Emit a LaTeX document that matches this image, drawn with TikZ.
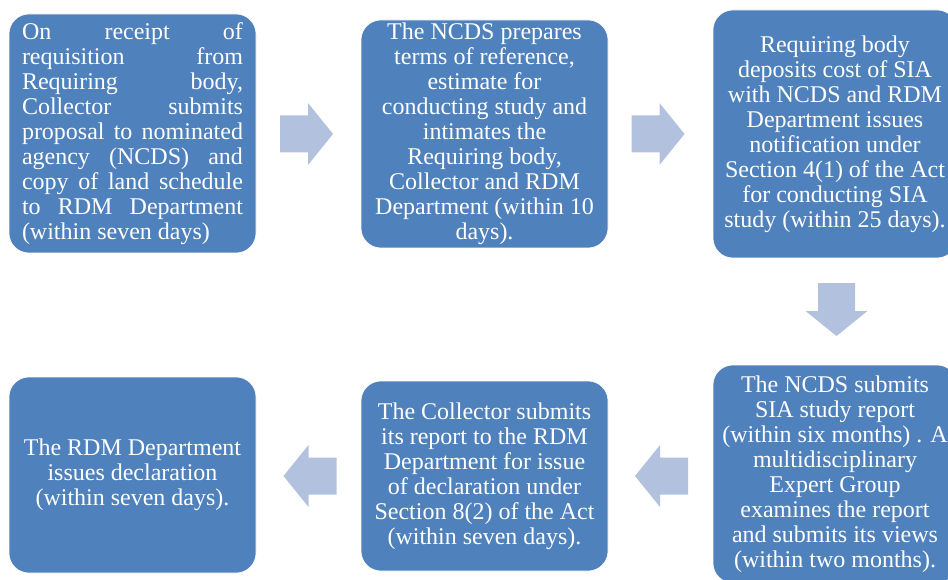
\documentclass[tikz,border=0pt]{standalone}
\usepackage{fontspec}
\setmainfont{Liberation Serif}
\definecolor{boxblue}{HTML}{4F81BD}
\definecolor{arrowblue}{HTML}{B2C2DE}
\tikzset{
  stepbox/.style={rounded corners=20pt, fill=boxblue, draw=white, line width=0.6pt,
    inner sep=0pt, text=white, align=center,
    font=\fontsize{24}{25}\selectfont},
  blockarrow/.pic={
    \fill[arrowblue] (-26.5,-18.5) -- (1.5,-18.5) -- (1.5,-31) -- (26.5,0)
      -- (1.5,31) -- (1.5,18.5) -- (-26.5,18.5) -- cycle;
  }
}
\newcommand{\jl}[1]{\makebox[221pt][s]{#1}}
\begin{document}
\begin{tikzpicture}[x=1pt,y=-1pt]
\useasboundingbox (0,0) rectangle (948,580);
\clip (0,0) rectangle (948,580);

\node[stepbox, minimum width=247pt, minimum height=239pt, align=left] (b1) at (132.5,133.5)
 {\jl{On receipt of}\\\jl{requisition from}\\\jl{Requiring body,}\\\jl{Collector submits}\\
  \jl{proposal to nominated}\\\jl{agency (NCDS) and}\\\jl{copy of land schedule}\\
  \jl{to RDM Department}\\(within seven days)};

\node[stepbox, minimum width=247pt, minimum height=228pt] (b2) at (484.5,134)
 {The NCDS prepares\\terms of reference,\\estimate for\\conducting study and\\intimates the\\Requiring body,\\Collector and RDM\\Department (within 10\\days).};

\node[stepbox, minimum width=244pt, minimum height=248pt] (b3) at (835,134)
 {Requiring body\\deposits cost of SIA\\with NCDS and RDM\\Department issues\\notification under\\Section 4(1) of the Act\\for conducting SIA\\study (within 25 days).};

\node[stepbox, minimum width=244pt, minimum height=218pt] (b4) at (835,474)
 {The NCDS submits\\SIA study report\\(within six months) . A\\multidisciplinary\\Expert Group\\examines the report\\and submits its views\\(within two months).};

\node[stepbox, minimum width=247pt, minimum height=190pt] (b5) at (484.5,476)
 {The Collector submits\\its report to the RDM\\Department for issue\\of declaration under\\Section 8(2) of the Act\\(within seven days).};

\node[stepbox, minimum width=247pt, minimum height=196pt] (b6) at (132.5,475)
 {The RDM Department\\issues declaration\\(within seven days).};

\pic at (306.5,134) {blockarrow};
\pic at (658,134) {blockarrow};
\pic[rotate=-90] at (836.5,309.5) {blockarrow};
\pic[rotate=180] at (661.5,476) {blockarrow};
\pic[rotate=180] at (310,476) {blockarrow};
\end{tikzpicture}
\end{document}
